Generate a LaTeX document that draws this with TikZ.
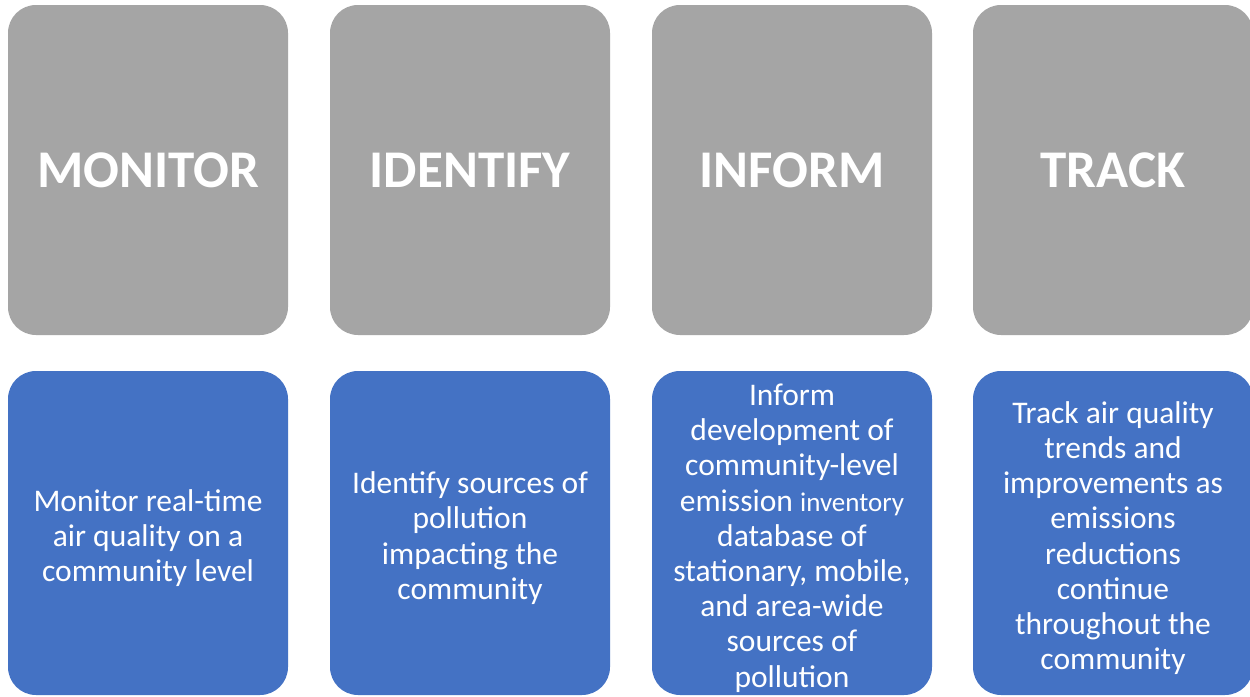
\documentclass[tikz,border=0pt]{standalone}
\usepackage{fontspec}
\setmainfont{Carlito}
\definecolor{boxgray}{HTML}{A5A5A5}
\definecolor{boxblue}{HTML}{4472C4}
\tikzset{
  headbox/.style={fill=boxgray, draw=none, rounded corners=28pt, minimum width=280pt, minimum height=330pt,
    inner sep=0pt, text=white, font=\fontsize{53}{58}\selectfont\bfseries},
  bodybox/.style={fill=boxblue, draw=none, rounded corners=28pt, minimum width=280pt, minimum height=324pt,
    inner sep=0pt},
  bodytext/.style={inner sep=0pt, text=white, align=center, font=\fontsize{31.5}{35.2}\selectfont},
}
\begin{document}
\begin{tikzpicture}[x=1pt,y=-1pt]
\clip (0,0) rectangle (1250,696);
\fill[white] (0,0) rectangle (1250,696);
\node[headbox] (h1) at (148,170) {MONITOR};
\node[headbox] (h2) at (470,170) {IDENTIFY};
\node[headbox] (h3) at (792,170) {INFORM};
\node[headbox] (h4) at (1113,170) {TRACK};
\node[bodybox] (b1) at (148,533) {};
\node[bodybox] (b2) at (470,533) {};
\node[bodybox] (b3) at (792,533) {};
\node[bodybox] (b4) at (1113,533) {};
\node[bodytext] (t1) at ([yshift=-5pt]b1.center) {Monitor real-time\\air quality on a\\community level};
\node[bodytext] (t2) at ([yshift=-5pt]b2.center) {Identify sources of\\pollution\\impacting the\\community};
\node[bodytext] (t3) at ([yshift=-5pt]b3.center) {Inform\\development of\\community-level\\emission {\fontsize{27}{35.2}\selectfont inventory}\\database of\\stationary, mobile,\\and area-wide\\sources of\\pollution};
\node[bodytext] (t4) at ([yshift=-5pt]b4.center) {Track air quality\\trends and\\improvements as\\emissions\\reductions\\continue\\throughout the\\community};
\end{tikzpicture}
\end{document}
